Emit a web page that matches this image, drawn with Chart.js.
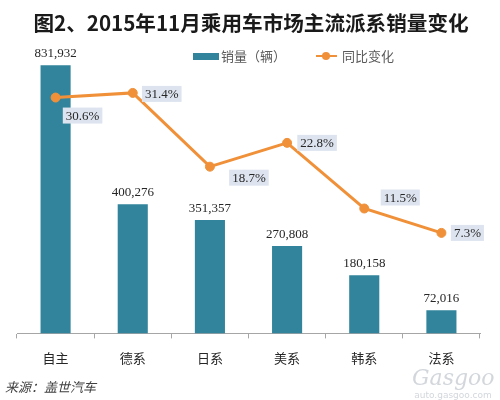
<!DOCTYPE html>
<html>
<head>
<meta charset="utf-8">
<script src="https://cdn.jsdelivr.net/npm/chart.js@4/dist/chart.umd.min.js"></script>
<style>
  body { margin: 0; background: #fff; }
  #wrap { position: relative; width: 500px; height: 400px; }
  #chart { position: absolute; left: 0; top: 0; }
  .title {
    position: absolute; left: 0; top: 8px; width: 502px; text-align: center;
    font: bold 20.6px/28px "Noto Sans CJK SC", sans-serif; color: #1a1a1a;
  }
  .legend {
    position: absolute; top: 47px; left: 193px; height: 18px;
    font: 13px/18px "Noto Sans CJK SC", sans-serif; color: #595959;
  }
  .legend span { position: absolute; white-space: nowrap; }
  .swatch { width: 26px; height: 7px; top: 6px; background: #31849b; }
  .lineKey { width: 21px; height: 2px; top: 8px; background: #f0913a; }
  .lineKey::after {
    content: ""; position: absolute; left: 6px; top: -3px; width: 8px; height: 8px;
    border-radius: 50%; background: #f0913a;
  }
  .source {
    position: absolute; left: 5px; top: 378px;
    font: italic 13px/18px "Noto Sans CJK SC", sans-serif; color: #404040;
  }
  .logo {
    position: absolute; left: 412px; top: 366px; width: 82px; text-align: center;
    font: italic 22px/24px "DejaVu Serif", serif; color: #d3d7dc;
  }
  .logo small { display: block; font: 9px/10px "DejaVu Sans", sans-serif; font-style: normal; }
</style>
</head>
<body>
<div id="wrap">
  <canvas id="chart" width="500" height="400"></canvas>
  <div class="title">图2、2015年11月乘用车市场主流派系销量变化</div>
  <div class="legend">
    <span class="swatch" style="left:0"></span>
    <span style="left:28px">销量（辆）</span>
    <span class="lineKey" style="left:123px"></span>
    <span style="left:149px">同比变化</span>
  </div>
  <div class="source">来源：盖世汽车</div>
  <div class="logo">Gasgoo<small>auto.gasgoo.com</small></div>
</div>
<script>
// chart data
const categories = ['自主', '德系', '日系', '美系', '韩系', '法系'];
const salesVolume = [831932, 400276, 351357, 270808, 180158, 72016];
const yoyChange = [30.6, 31.4, 18.7, 22.8, 11.5, 7.3];

// where each % label sits relative to its point
const pctLabelOffsets = [[27, 18], [29, 1], [39, 11], [30, 0], [36, -11], [26, 0]];

const labelPlugin = {
    id: 'valueLabels',
    afterDatasetsDraw(chart) {
        const ctx = chart.ctx;
        ctx.save();
        ctx.font = '13px "Liberation Serif", serif';
        ctx.textAlign = 'center';
        ctx.textBaseline = 'middle';

        // bar values
        chart.getDatasetMeta(0).data.forEach((bar, i) => {
            ctx.fillStyle = '#262626';
            ctx.fillText(salesVolume[i].toLocaleString('en-US'), bar.x, bar.y - 12);
        });

        // percentage boxes
        chart.getDatasetMeta(1).data.forEach((pt, i) => {
            const text = yoyChange[i].toFixed(1) + '%';
            const cx = pt.x + pctLabelOffsets[i][0];
            const cy = pt.y + pctLabelOffsets[i][1];
            const w = ctx.measureText(text).width + 6;
            ctx.fillStyle = '#dde4ef';
            ctx.fillRect(cx - w / 2, cy - 8, w, 16);
            ctx.fillStyle = '#262626';
            ctx.fillText(text, cx, cy + 1);
        });
        ctx.restore();
    }
};

new Chart(document.getElementById('chart'), {
    data: {
        labels: categories,
        datasets: [{
            type: 'bar',
            label: '销量（辆）',
            data: salesVolume,
            backgroundColor: '#31849b',
            categoryPercentage: 1,
            barPercentage: 0.39,
            yAxisID: 'y',
            order: 2
        }, {
            type: 'line',
            label: '同比变化',
            data: yoyChange,
            borderColor: '#f0913a',
            backgroundColor: '#f0913a',
            borderWidth: 3,
            pointRadius: 4.5,
            pointBorderWidth: 1,
            tension: 0,
            yAxisID: 'y2',
            order: 1
        }]
    },
    options: {
        responsive: false,
        animation: false,
        layout: { padding: { left: 17, right: 20, top: 11, bottom: 22 } },
        plugins: {
            legend: { display: false },
            tooltip: { enabled: false }
        },
        scales: {
            x: {
                offset: true,
                grid: {
                    offset: true,
                    drawOnChartArea: false,
                    drawTicks: true,
                    tickLength: 5,
                    color: '#a6a6a6'
                },
                border: { display: true, color: '#a6a6a6' },
                ticks: {
                    padding: 12,
                    color: '#262626',
                    font: { family: '"Noto Sans CJK SC", sans-serif', size: 13 }
                }
            },
            y: { display: false, min: 0, max: 1000000 },
            y2: { display: false, min: -10, max: 45.5 }
        }
    },
    plugins: [labelPlugin]
});
</script>
</body>
</html>
